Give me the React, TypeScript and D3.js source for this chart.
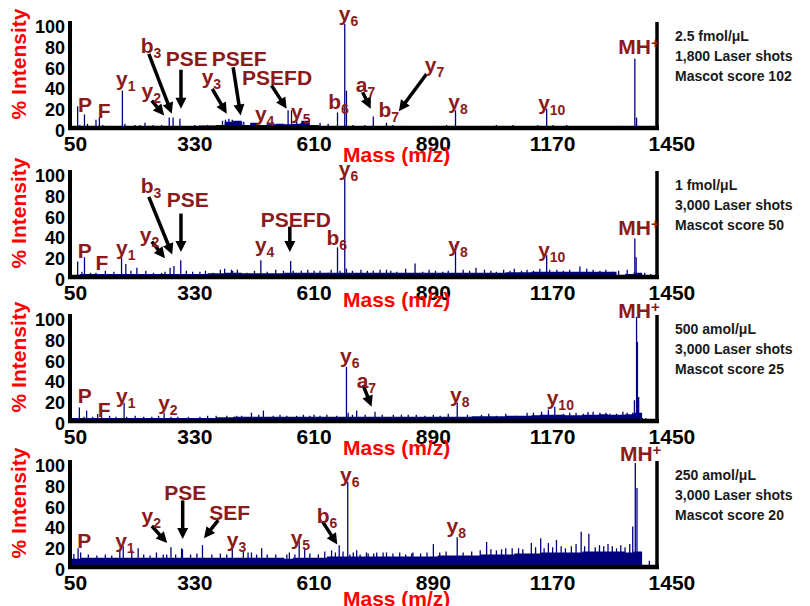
import React from 'react'
import * as d3 from 'd3'

// ---- data ----
const massTicks = [50, 330, 610, 890, 1170, 1450]
const intensityTicks = [0, 20, 40, 60, 80, 100]

// noise floor, one value every 20 m/z starting at 40
const floorStart = 40
const floorStep = 20

// panel 1 : 2.5 fmol/uL
const peaks1 = [
  [55, 21], [60, 3], [71, 13], [78, 4], [90, 2], [98, 8], [106, 10], [114, 3], [130, 2], [143, 2],
  [160, 36], [166, 4], [180, 2], [190, 3], [201, 3], [213, 5], [232, 3], [240, 2], [252, 3], [260, 2],
  [270, 10], [279, 10], [295, 9], [330, 3], [345, 2], [360, 3], [395, 7], [402, 8], [410, 9], [418, 8],
  [440, 6], [445, 6], [485, 3], [500, 4], [520, 3], [549, 17], [557, 17], [569, 10], [580, 5], [620, 3],
  [624, 5], [640, 2], [643, 4], [665, 15], [682, 100], [686, 36], [701, 3], [710, 2], [729, 3], [749, 11],
  [760, 2], [780, 5], [795, 3], [800, 2], [819, 2], [827, 2], [858, 2], [870, 2], [900, 2], [921, 3],
  [942, 17], [960, 2], [994, 2], [1010, 2], [1038, 3], [1060, 2], [1077, 3], [1100, 2], [1135, 3], [1156, 18.5],
  [1171, 3], [1190, 2], [1203, 3], [1230, 1.5], [1250, 2], [1280, 1.5], [1320, 2], [1363, 66.5], [1367, 10],
]
const floor1 = [
  1, 1.5, 1, 1.5, 1, 1, 1, 1, 1.5, 1, 1, 1.5, 1.5, 1.5, 2, 2.5, 2.5, 3, 6, 7,
  3, 5, 3, 3.5, 4, 3.5, 4, 7, 3, 2, 1.5, 1.5, 1.5, 2, 1.5, 1, 1.5, 1.5, 1.5, 1, 1,
  1, 1, 1, 1, 1, 1, 1, 1, 1, 1, 1, 1, 1, 1, 1, 1, 1, 1, 1,
  0.5, 0.5, 0.5, 0.5, 0.5, 0.5, 0.5, 0,
]
const labels1 = [
  { t: 'P', m: 56, v: 15 }, { t: 'F', m: 102, v: 10 }, { t: 'y', s: '1', m: 145, v: 40 },
  { t: 'y', s: '2', m: 205, v: 29 }, { t: 'b', s: '3', m: 203, v: 72 }, { t: 'PSE', m: 262, v: 60 },
  { t: 'PSEF', m: 370, v: 60 }, { t: 'y', s: '3', m: 346, v: 42 }, { t: 'PSEFD', m: 441, v: 41 },
  { t: 'y', s: '4', m: 471, v: 6.3 }, { t: 'y', s: '5', m: 556, v: 9 }, { t: 'b', s: '6', m: 643, v: 18 },
  { t: 'y', s: '6', m: 668, v: 103 }, { t: 'a', s: '7', m: 708, v: 35 }, { t: 'b', s: '7', m: 761, v: 11 },
  { t: 'y', s: '7', m: 870, v: 54 }, { t: 'y', s: '8', m: 925, v: 18.7 }, { t: 'y', s: '10', m: 1136, v: 17.5 },
  { t: 'MH', p: '+', m: 1324, v: 71 },
]
const arrows1 = [
  [222, 71.3, 276, 13.7], [297.5, 56, 297.5, 18.5], [229, 26.4, 258, 12], [371, 37.7, 405, 13.7],
  [420, 58.5, 437.6, 12], [510, 41, 545.6, 18.5], [724, 34.4, 743, 18.5], [874, 52, 809, 16],
]
const notes1 = ['2.5 fmol/μL', '1,800 Laser shots', 'Mascot score 102']

// panel 2 : 1 fmol/uL
const peaks2 = [
  [55, 15], [65, 5], [71, 19], [85, 4], [98, 4], [107, 3], [120, 6], [140, 5], [158, 18.5], [168, 12.5],
  [180, 6], [194, 9], [215, 6], [233, 4], [252, 4], [260, 5], [272, 9], [281, 10.5], [297, 16], [310, 6],
  [325, 5], [342, 5], [355, 6], [373, 4], [390, 7], [400, 8], [416, 7], [419, 6], [430, 7], [452, 4],
  [470, 6], [485, 16], [500, 5], [520, 7], [538, 6], [555, 15.5], [561, 6], [580, 6], [595, 7], [610, 6],
  [624, 6], [643, 4], [650, 7], [665, 28.5], [671, 6], [682, 100], [686, 8], [700, 6], [720, 7], [735, 6],
  [749, 6], [765, 7], [780, 7], [790, 6], [804, 5], [825, 8], [847, 13], [865, 5], [880, 7], [895, 6],
  [912, 5], [925, 6], [942, 31], [960, 7], [975, 6], [990, 9], [1010, 7], [1025, 6], [1038, 5], [1055, 7],
  [1070, 6], [1080, 8], [1097, 6], [1110, 7], [1125, 6], [1140, 8], [1156, 21], [1163, 7], [1180, 7], [1195, 6],
  [1210, 7], [1234, 10], [1250, 8], [1265, 7], [1281, 6], [1295, 7], [1311, 5], [1325, 6], [1345, 7], [1363, 37],
  [1366, 19], [1386, 4], [1400, 3],
]
const floor2 = [
  2, 3, 3, 3, 3, 3, 3, 3, 3, 3, 3, 3, 3, 3, 3, 3, 3.5, 3.5, 4, 4,
  3.5, 3.5, 3.5, 3.5, 3.5, 4, 4, 4, 4, 4, 4, 4, 4, 4, 4, 4, 4, 4, 4, 4,
  4, 4, 4, 4, 4, 4, 4, 4, 4, 4, 4, 4.5, 4.5, 4.5, 5, 5, 5, 5, 5, 5,
  5, 5, 5, 5, 2, 3, 4, 1, 0,
]
const labels2 = [
  { t: 'P', m: 55, v: 18.5 }, { t: 'F', m: 97, v: 6.7 }, { t: 'y', s: '1', m: 145, v: 21 },
  { t: 'y', s: '2', m: 201, v: 34 }, { t: 'b', s: '3', m: 203, v: 80.5 }, { t: 'PSE', m: 264, v: 67.6 },
  { t: 'y', s: '4', m: 471, v: 24 }, { t: 'PSEFD', m: 485, v: 48.4 }, { t: 'b', s: '6', m: 639, v: 31 },
  { t: 'y', s: '6', m: 668, v: 97 }, { t: 'y', s: '8', m: 925, v: 24.4 }, { t: 'y', s: '10', m: 1136, v: 19.6 },
  { t: 'MH', p: '+', m: 1324, v: 40.4 },
]
const arrows2 = [
  [222, 77, 277, 21.6], [297.5, 61, 297.5, 24], [229, 34, 260, 18], [553, 48.4, 553, 24],
]
const notes2 = ['1 fmol/μL', '3,000 Laser shots', 'Mascot score 50']

// panel 3 : 500 amol/uL
const peaks3 = [
  [59, 13], [70, 4], [76, 10], [90, 4], [102, 6.7], [111, 4], [130, 5], [145, 4], [164, 17.5], [170, 4],
  [190, 5], [210, 4], [229, 4], [245, 5], [258, 7.4], [274, 4], [290, 4], [315, 4], [342, 4], [360, 5],
  [380, 5], [405, 5], [428, 5], [440, 5], [463, 8], [480, 6], [491, 10], [514, 5], [530, 6], [546, 5],
  [569, 5], [585, 6], [600, 5], [610, 6], [624, 5], [640, 6], [663, 5], [686, 52], [690, 8], [700, 6],
  [710, 10], [730, 6], [753, 9], [770, 6], [796, 6], [815, 6], [831, 6], [850, 6], [870, 5], [890, 6],
  [906, 5], [925, 7], [946, 17.5], [970, 6], [1003, 6], [1020, 7], [1038, 5], [1060, 7], [1085, 5], [1110, 8],
  [1125, 8], [1144, 9], [1160, 11], [1175, 13.7], [1195, 7], [1210, 8], [1225, 8], [1242, 7], [1253, 8.7], [1265, 9],
  [1281, 8], [1295, 8], [1304, 7], [1320, 7], [1335, 9], [1345, 8], [1358, 8], [1362, 20], [1367, 100], [1369, 76],
  [1372, 23], [1381, 3], [1389, 3],
]
const floor3 = [
  3, 3, 3, 3, 3, 3, 3, 3, 3, 3, 3, 3, 3, 3, 3, 3, 3, 3.5, 3.5, 4,
  4, 4, 4, 4, 4, 4, 4, 4, 4, 4, 4, 4, 4, 4, 4, 4, 4, 4, 4, 4,
  4, 4, 4, 4, 4, 4, 4, 4.5, 4.5, 4.5, 4.5, 5, 5, 5, 5.5, 6, 6, 6, 5.5, 5.5,
  6, 6, 6.5, 6, 6, 6.5, 8, 1, 1,
]
const labels3 = [
  { t: 'P', m: 55, v: 17 }, { t: 'F', m: 102, v: 4 }, { t: 'y', s: '1', m: 145, v: 17 },
  { t: 'y', s: '2', m: 244, v: 10.6 }, { t: 'y', s: '6', m: 671, v: 55.6 }, { t: 'a', s: '7', m: 710, v: 32 },
  { t: 'y', s: '8', m: 929, v: 18.7 }, { t: 'y', s: '10', m: 1156, v: 15.4 }, { t: 'MH', p: '+', m: 1324, v: 99 },
]
const arrows3 = [[725, 34.6, 745, 13.8]]
const notes3 = ['500 amol/μL', '3,000 Laser shots', 'Mascot score 25']

// panel 4 : 250 amol/uL
const peaks4 = [
  [46, 12.5], [56, 18], [62, 14], [80, 12], [100, 11], [120, 12], [135, 11], [154, 16], [162, 20], [182, 16.7],
  [197, 18], [210, 12], [225, 11], [240, 14], [256, 12], [264, 12], [274, 19], [285, 12], [299, 18], [301, 17],
  [320, 12], [335, 13], [348, 21], [370, 12], [390, 13], [405, 12], [418, 19], [444, 15], [455, 14], [463, 14],
  [475, 12], [487, 18], [500, 12], [520, 12], [546, 12], [552, 14], [565, 12], [575, 25], [588, 17], [600, 13],
  [620, 12], [635, 15], [651, 16], [660, 14], [669, 21], [678, 15], [689, 82], [694, 12], [702, 14], [710, 16],
  [718, 12], [733, 14], [737, 13], [750, 13], [757, 14], [772, 14], [780, 14], [795, 13], [811, 14], [825, 12],
  [839, 13], [842, 14], [860, 13], [875, 14], [890, 22], [905, 14], [920, 15], [946, 28.5], [960, 14], [980, 15],
  [1000, 16], [1015, 24], [1025, 17], [1038, 16], [1050, 17], [1060, 18], [1075, 18], [1090, 18], [1100, 17], [1120, 23],
  [1130, 19], [1142, 27.6], [1150, 18], [1160, 23], [1170, 19], [1179, 26], [1190, 20], [1200, 18], [1214, 20], [1225, 22],
  [1237, 34], [1245, 20], [1255, 32], [1270, 19], [1280, 21], [1290, 20], [1300, 22], [1310, 20], [1320, 18], [1330, 21],
  [1340, 19], [1351, 22], [1358, 39], [1364, 100], [1368, 76], [1374, 4], [1397, 6],
]
const floor4 = [
  8, 9, 9, 9, 9, 9, 9, 9, 9, 9, 9, 9, 9, 9, 9, 9, 9, 9, 9, 9,
  9, 9, 9, 9, 9, 8, 9, 9, 9, 9, 10, 10, 10, 10, 10, 10, 10, 10, 10, 10,
  10, 10, 10, 11, 11, 11, 11, 11, 12, 12, 12, 12, 13, 13, 13, 14, 14, 14, 14, 14,
  15, 15, 15, 15, 15, 14, 15, 2, 1,
]
const labels4 = [
  { t: 'P', m: 54, v: 18 }, { t: 'y', s: '1', m: 143, v: 18.7 }, { t: 'y', s: '2', m: 205, v: 42 },
  { t: 'PSE', m: 258, v: 64.4 }, { t: 'SEF', m: 364, v: 45 }, { t: 'y', s: '3', m: 405, v: 19.6 },
  { t: 'y', s: '5', m: 555, v: 21 }, { t: 'b', s: '6', m: 616, v: 42 }, { t: 'y', s: '6', m: 671, v: 82 },
  { t: 'y', s: '8', m: 921, v: 32.5 }, { t: 'MH', p: '+', m: 1328, v: 102 },
]
const arrows4 = [
  [229, 39.4, 265, 23], [301.5, 64, 301.5, 27], [385, 45, 351.5, 27.6], [630, 43.6, 664.5, 21.6],
]
const notes4 = ['250 amol/μL', '3,000 Laser shots', 'Mascot score 20']

// ---- layout ----
const W = 810
const H = 606
const panelBase = [128, 277, 421, 567]
const massLabelDy = [34, 30, 34, 39]
const FONT = '"Liberation Sans", Arial, Helvetica, sans-serif'
const NAVY = '#00007f'
const LABEL = '#8c1a1a'

const panels = [
  { peaks: peaks1, floor: floor1, labels: labels1, arrows: arrows1, notes: notes1 },
  { peaks: peaks2, floor: floor2, labels: labels2, arrows: arrows2, notes: notes2 },
  { peaks: peaks3, floor: floor3, labels: labels3, arrows: arrows3, notes: notes3 },
  { peaks: peaks4, floor: floor4, labels: labels4, arrows: arrows4, notes: notes4 },
]

const x = d3.scaleLinear().domain([37, 1415]).range([70, 657])

function Arrow({ x1, y1, x2, y2 }) {
  const dx = x2 - x1, dy = y2 - y1
  const L = Math.hypot(dx, dy)
  const ux = dx / L, uy = dy / L
  const hl = 11, hw = 5.5
  const bx = x2 - ux * hl, by = y2 - uy * hl
  const pts = [
    [x2, y2],
    [bx - uy * hw, by + ux * hw],
    [bx + uy * hw, by - ux * hw],
  ].map(p => p.join(',')).join(' ')
  return (
    <g>
      <line x1={x1} y1={y1} x2={bx + ux} y2={by + uy} stroke="#000" strokeWidth={3.5} />
      <polygon points={pts} fill="#000" />
    </g>
  )
}

function Panel({ data, base, massDy }) {
  const y = d3.scaleLinear().domain([0, 100]).range([base, base - 104])
  const top = base - 107
  const floorPts = data.floor.map((v, i) => [floorStart + i * floorStep, v])
  const area = d3.area()
    .x(d => x(d[0]))
    .y0(y(0))
    .y1(d => y(d[1]))
    .curve(d3.curveStepAfter)

  return (
    <g>
      <path d={area(floorPts)} fill={NAVY} />
      {data.peaks.map((p, i) => (
        <line key={i} x1={x(p[0])} x2={x(p[0])} y1={y(0)} y2={y(Math.min(p[1], 102))}
          stroke={NAVY} strokeWidth={1.3} />
      ))}

      {/* frame */}
      <line x1={70} x2={70} y1={top} y2={base + 2} stroke="#000" strokeWidth={4} />
      <line x1={657} x2={657} y1={top + 1} y2={base} stroke="#000" strokeWidth={3.5} />
      <line x1={68} x2={659} y1={base} y2={base} stroke="#000" strokeWidth={4.5} />

      {intensityTicks.map(t => (
        <text key={t} x={65} y={y(t) + 9} textAnchor="end" fontSize={18} fontWeight="bold"
          fontFamily={FONT} fill="#000">{t}</text>
      ))}
      {massTicks.map(t => (
        <text key={t} x={x(t)} y={base + 23} textAnchor="middle" fontSize={21} fontWeight="bold"
          fontFamily={FONT} fill="#000">{t}</text>
      ))}

      <text transform={`translate(26,${base - 64}) rotate(-90)`} textAnchor="middle" fontSize={21}
        fontWeight="bold" fontFamily={FONT} fill="#ff0000">% Intensity</text>
      <text x={343} y={base + massDy} fontSize={21} fontWeight="bold" fontFamily={FONT}
        fill="#ff0000">Mass (m/z)</text>

      {data.arrows.map((a, i) => (
        <Arrow key={i} x1={x(a[0])} y1={y(a[1])} x2={x(a[2])} y2={y(a[3])} />
      ))}

      {data.labels.map((l, i) => (
        <text key={i} x={x(l.m)} y={y(l.v)} fontSize={21} fontWeight="bold" fontFamily={FONT} fill={LABEL}>
          {l.t}
          {l.s && <tspan fontSize={14} dy={5}>{l.s}</tspan>}
          {l.p && <tspan fontSize={15} dy={-6}>{l.p}</tspan>}
        </text>
      ))}

      {data.notes.map((n, i) => (
        <text key={i} x={675} y={base - 87 + i * 20} fontSize={14} fontWeight="bold"
          fontFamily={FONT} fill="#1a1a1a">{n}</text>
      ))}
    </g>
  )
}

export default function App() {
  return (
    <svg width={W} height={H} style={{ position: 'absolute', left: 0, top: 0, background: '#fff' }}>
      {panels.map((p, i) => (
        <Panel key={i} data={p} base={panelBase[i]} massDy={massLabelDy[i]} />
      ))}
    </svg>
  )
}
